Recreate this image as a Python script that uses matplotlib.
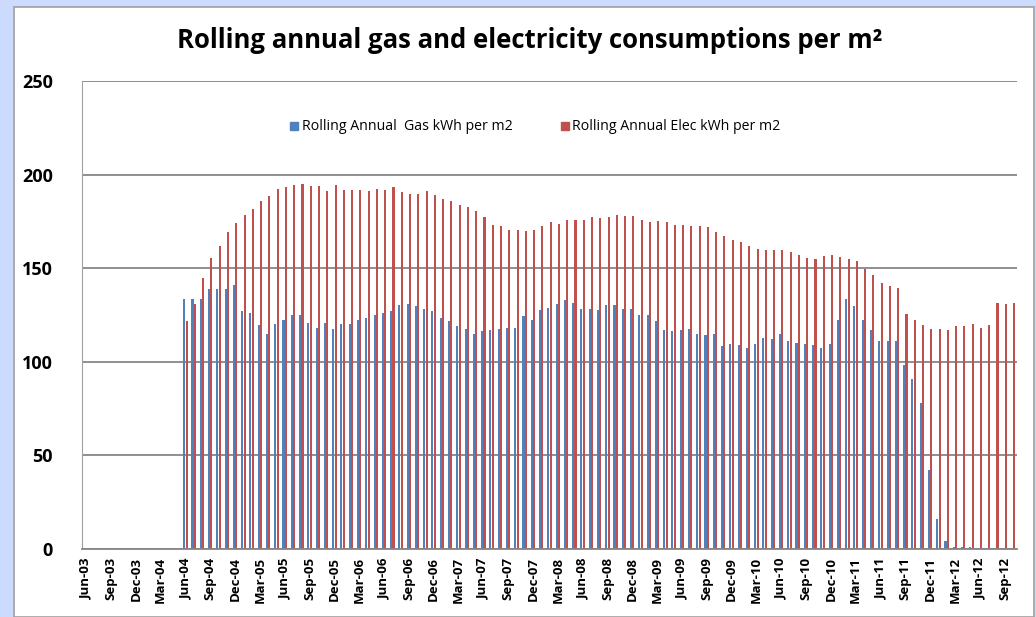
import numpy as np
import pandas as pd
import matplotlib
matplotlib.use('Agg')
import matplotlib.pyplot as plt
from matplotlib.patches import Rectangle
from matplotlib.lines import Line2D

# meses Jun-03 .. Oct-12
meses = pd.date_range('2003-06-01', '2012-10-01', freq='MS')
rotulos = [m.strftime('%b-%y') for m in meses]

# valores (a partir de Jun-04)
gas = [133.6, 133.6, 133.6, 138.9, 138.9, 138.9, 141.1, 127.0, 126.3, 119.6,
       114.8, 120.2, 122.3, 125.0, 125.0, 120.9, 118.2, 120.9, 117.5, 120.2,
       120.2, 122.3, 123.6, 125.0, 126.3, 127.0, 130.4, 130.9, 129.6, 128.2,
       127.0, 123.6, 121.6, 118.9, 117.5, 114.8, 116.3, 117.0, 117.5, 118.2,
       118.2, 124.3, 122.3, 127.7, 128.9, 130.9, 133.0, 131.6, 128.2, 128.2,
       127.7, 130.4, 130.4, 128.2, 128.2, 125.0, 125.0, 121.6, 117.0, 116.3,
       117.0, 117.5, 114.8, 114.3, 114.8, 108.2, 109.6, 108.9, 107.5, 109.6,
       112.9, 112.1, 114.8, 110.9, 110.2, 109.6, 108.9, 107.5, 109.6, 122.3,
       133.6, 129.6, 122.3, 117.0, 110.9, 110.9, 110.9, 98.2, 90.7, 78.0,
       42.0, 15.9, 4.5, 1.0, 1.0, 1.0, 0, 0, 0, 0, 0]
elec = [121.8, 130.9, 144.5, 155.7, 161.8, 169.3, 173.9, 178.6, 181.8, 185.9,
        188.6, 192.5, 193.2, 194.6, 195.0, 193.9, 193.9, 191.3, 194.6, 192.0,
        192.0, 192.0, 191.3, 192.5, 192.0, 193.2, 190.5, 189.8, 189.8, 191.3,
        189.3, 187.1, 185.9, 183.9, 182.5, 180.5, 177.1, 173.2, 172.5, 170.5,
        170.5, 169.8, 170.5, 172.5, 174.5, 173.8, 175.9, 175.9, 175.9, 177.1,
        176.6, 177.1, 178.6, 177.9, 177.9, 175.9, 174.5, 175.2, 174.5, 173.2,
        173.2, 172.5, 172.5, 171.8, 169.3, 167.1, 165.2, 163.8, 161.8, 160.4,
        159.8, 159.8, 159.8, 158.4, 157.1, 155.7, 155.0, 156.4, 157.1, 155.9,
        155.0, 153.8, 149.8, 146.4, 142.3, 140.4, 139.6, 125.5, 122.3, 119.6,
        117.5, 117.5, 117.0, 118.9, 118.9, 120.2, 118.2, 119.6, 131.6, 130.9,
        131.6]

inicio = 12  # Jun-04
cor_gas = '#4F81BD'
cor_elec = '#C0504D'
fonte = 'Open Sans'
plt.rcParams['font.family'] = fonte

fig = plt.figure(figsize=(10.36, 6.17), dpi=100, facecolor='#CCDAFE')
# moldura branca do grafico
fig.patches.append(Rectangle((14/1036, 0), 1020/1036, 1 - 7/617, transform=fig.transFigure,
                             facecolor='white', edgecolor='#A0A0A0', linewidth=1.2, zorder=-5))

ax = fig.add_axes([82/1036, 1 - 549/617, 935/1036, 468/617])
ax.set_zorder(2)
ax.patch.set_alpha(0)
x = np.arange(len(rotulos))
xs = x[inicio:inicio + len(gas)]
ax.bar(xs - 0.145, gas, width=0.25, color=cor_gas)
ax.bar(xs + 0.145, elec, width=0.25, color=cor_elec)

ax.set_xlim(-0.5, len(rotulos) - 0.5)
ax.set_ylim(0, 250)
ax.set_yticks(np.arange(0, 251, 50))
ax.set_yticklabels([str(v) for v in range(0, 251, 50)], fontsize=13, fontweight='bold')
ax.grid(axis='y', color='#868686', linewidth=1.3)
ax.set_axisbelow(True)
ax.set_xticks(x[::3])
ax.set_xticklabels(rotulos[::3], rotation=90, fontsize=9.5, fontweight='bold')
ax.tick_params(axis='y', length=0, pad=21)
ax.tick_params(axis='x', length=0, pad=6)
for s in ['top', 'right']:
    ax.spines[s].set_visible(False)
ax.spines['left'].set_color('#A0A0A0')
ax.spines['bottom'].set_color('#868686')
ax.spines['bottom'].set_linewidth(1.3)

handles = [Line2D([], [], ls='none', marker='s', markersize=6, color=cor_gas,
                  label='Rolling Annual  Gas kWh per m2'),
           Line2D([], [], ls='none', marker='s', markersize=6, color=cor_elec,
                  label='Rolling Annual Elec kWh per m2')]
ax.legend(handles=handles, loc='center', bbox_to_anchor=(535/1036 * 1036/935 - 82/935, 1 - 46/468),
          ncol=2, frameon=False, prop={'family': fonte, 'size': 10.2}, handlelength=0.7,
          columnspacing=3.3, handletextpad=0.2)

fig.text(530/1036, 1 - 40/617, 'Rolling annual gas and electricity consumptions per m²',
         ha='center', va='center', fontsize=18.5, fontweight='bold')

fig.savefig('out.png', dpi=100, facecolor=fig.get_facecolor())
